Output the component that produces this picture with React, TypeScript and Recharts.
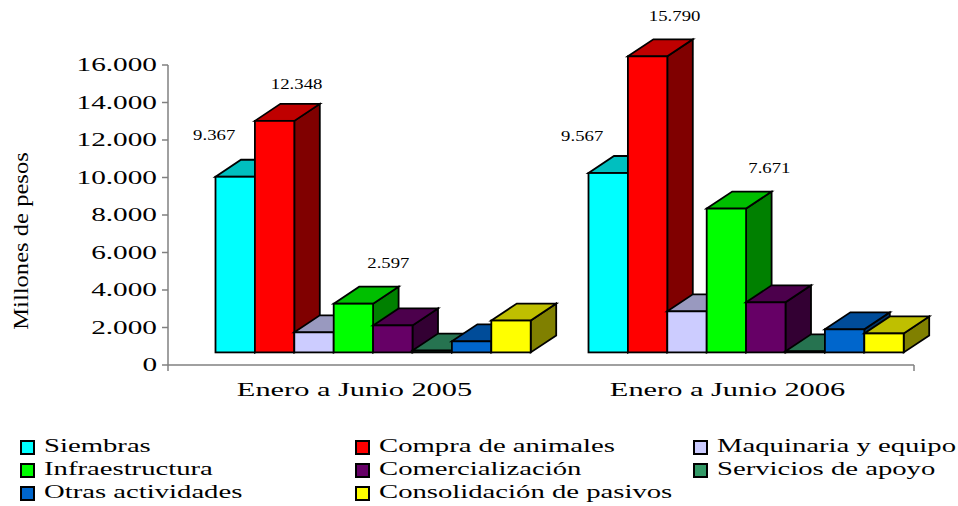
import React from 'react';
import { BarChart, Bar, XAxis, YAxis, Legend, LabelList, Label } from 'recharts';

const categories = ['Enero a Junio 2005', 'Enero a Junio 2006'];
const yTicks = [0, 2000, 4000, 6000, 8000, 10000, 12000, 14000, 16000];

const siembras = [9367, 9567];
const compraAnimales = [12348, 15790];
const maquinaria = [1070, 2190];
const infraestructura = [2597, 7671];
const comercializacion = [1440, 2670];
const servicios = [100, 60];
const otrasActividades = [590, 1230];
const consolidacion = [1700, 1010];

const data = categories.map((name, i) => ({
  name,
  siembras: siembras[i],
  compraAnimales: compraAnimales[i],
  maquinaria: maquinaria[i],
  infraestructura: infraestructura[i],
  comercializacion: comercializacion[i],
  servicios: servicios[i],
  otrasActividades: otrasActividades[i],
  consolidacion: consolidacion[i],
}));

// front, top and side colours of each block
const SERIES = [
  { key: 'siembras', name: 'Siembras', front: '#00ffff', top: '#00bfbf', side: '#008080' },
  { key: 'compraAnimales', name: 'Compra de animales', front: '#ff0000', top: '#bf0000', side: '#800000' },
  { key: 'maquinaria', name: 'Maquinaria y equipo', front: '#ccccff', top: '#9999bf', side: '#666680' },
  { key: 'infraestructura', name: 'Infraestructura', front: '#00ff00', top: '#00bf00', side: '#008000' },
  { key: 'comercializacion', name: 'Comercialización', front: '#660066', top: '#4c004c', side: '#330033' },
  { key: 'servicios', name: 'Servicios de apoyo', front: '#339966', top: '#267350', side: '#1a4d33' },
  { key: 'otrasActividades', name: 'Otras actividades', front: '#0066cc', top: '#004c99', side: '#003366' },
  { key: 'consolidacion', name: 'Consolidación de pasivos', front: '#ffff00', top: '#bfbf00', side: '#808000' },
];

// where the free floating value labels sit, relative to the top of the block
const LABEL_NUDGE: Record<string, number[][]> = {
  siembras: [[-21, -42], [-26, -37]],
  compraAnimales: [[22, -37], [27, -40]],
  infraestructura: [[35, -41], [43, -41]],
};

const FONT = '"Liberation Serif", serif';
const SHIFT_X = 18.5;
const SHIFT_Y = -12.6;
const DEPTH_X = 25.5;
const DEPTH_Y = 17;

const formatPesos = (v: number) => String(v).replace(/\B(?=(\d{3})+$)/g, '.');

function Block(props: any) {
  const { x, y, width, height, front, top, side } = props;
  const l = x + SHIFT_X;
  const r = l + width;
  const t = y + SHIFT_Y;
  const b = t + height;
  const common = { stroke: '#000', strokeWidth: 1.8, strokeLinejoin: 'miter' as const };
  return (
    <g>
      <polygon points={`${r},${t} ${r + DEPTH_X},${t - DEPTH_Y} ${r + DEPTH_X},${b - DEPTH_Y} ${r},${b}`} fill={side} {...common} />
      <polygon points={`${l},${t} ${l + DEPTH_X},${t - DEPTH_Y} ${r + DEPTH_X},${t - DEPTH_Y} ${r},${t}`} fill={top} {...common} />
      <rect x={l} y={t} width={width} height={height} fill={front} {...common} />
    </g>
  );
}

function StretchedText({ x, y, anchor, size, stretch, children }: any) {
  return (
    <text transform={`translate(${x},${y}) scale(${stretch},1)`} textAnchor={anchor} fontSize={size} fontFamily={FONT} fill="#000">
      {children}
    </text>
  );
}

const ValueTick = ({ x, y, payload }: any) => (
  <StretchedText x={x} y={y + 6} anchor="end" size={19} stretch={1.54}>{formatPesos(payload.value)}</StretchedText>
);

const CategoryTick = ({ x, y, payload }: any) => (
  <StretchedText x={x} y={y + 17} anchor="middle" size={19} stretch={1.6}>{payload.value}</StretchedText>
);

const floatingLabel = (seriesKey: string) => (props: any) => {
  const { x, y, width, value, index } = props;
  const [dx, dy] = LABEL_NUDGE[seriesKey][index];
  return (
    <StretchedText x={x + SHIFT_X + width / 2 + dx} y={y + SHIFT_Y + dy + 5} anchor="middle" size={15} stretch={1.25}>
      {formatPesos(value)}
    </StretchedText>
  );
};

const LegendBox = ({ payload }: any) => {
  const columns = [20, 355, 693];
  return (
    <div style={{ position: 'relative', height: 0 }}>
      {(payload || []).map((item: any, i: number) => (
        <div key={item.value} style={{ position: 'absolute', left: columns[i % 3], top: 23 * Math.floor(i / 3), height: 22, whiteSpace: 'nowrap' }}>
          <span style={{ position: 'absolute', left: 0, top: 5, width: 11, height: 11, border: '2px solid #000', background: item.color }} />
          <span style={{ position: 'absolute', left: 24, top: 0, fontFamily: FONT, fontSize: 19, lineHeight: '22px', color: '#000', transform: 'scaleX(1.51)', transformOrigin: 'left center' }}>
            {item.value}
          </span>
        </div>
      ))}
    </div>
  );
};

export default function App() {
  return (
    <div style={{ position: 'absolute', left: 0, top: 0, width: 958, height: 506, background: '#fff' }}>
      <BarChart
        width={958}
        height={506}
        data={data}
        margin={{ top: 65, right: 44, left: 0, bottom: 105 }}
        barCategoryGap={28}
        barGap={0}
        barSize={39.4}
      >
        <XAxis
          xAxisId="edges"
          type="number"
          domain={[0, 2]}
          ticks={[0, 1, 2]}
          height={6}
          tickSize={6}
          tick={() => <g />}
          stroke="#808080"
          strokeWidth={1.5}
        />
        <XAxis
          xAxisId="periods"
          dataKey="name"
          height={30}
          axisLine={false}
          tickLine={false}
          tick={<CategoryTick />}
        />
        <YAxis
          width={168}
          domain={[0, 16000]}
          ticks={yTicks}
          interval={0}
          tickSize={6}
          tickMargin={5}
          stroke="#808080"
          strokeWidth={1.5}
          tick={<ValueTick />}
        >
          <Label
            content={() => (
              <text transform="translate(28,241) rotate(-90) scale(1.23,1)" textAnchor="middle" fontSize={20} fontFamily={FONT} fill="#000">
                Millones de pesos
              </text>
            )}
          />
        </YAxis>
        <Legend
          content={<LegendBox />}
          itemSorter={null}
          wrapperStyle={{ position: 'absolute', left: 0, top: 435, width: 958, height: 0 }}
        />
        {SERIES.map((s) => (
          <Bar
            key={s.key}
            xAxisId="periods"
            dataKey={s.key}
            name={s.name}
            fill={s.front}
            isAnimationActive={false}
            shape={(p: any) => <Block {...p} front={s.front} top={s.top} side={s.side} />}
          >
            {LABEL_NUDGE[s.key] && <LabelList dataKey={s.key} content={floatingLabel(s.key)} />}
          </Bar>
        ))}
      </BarChart>
    </div>
  );
}
